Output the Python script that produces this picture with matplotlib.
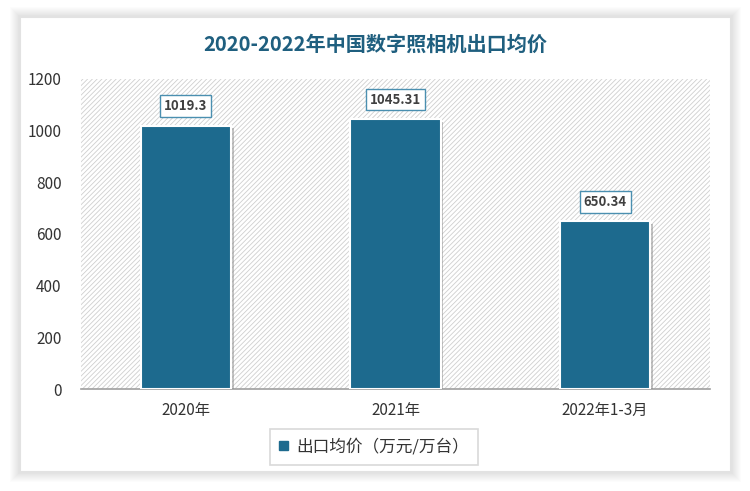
import matplotlib.pyplot as plt
import matplotlib.patches as mpatches
import matplotlib.patheffects as pe

plt.rcParams['font.family'] = ['Noto Sans CJK SC', 'DejaVu Sans']
plt.rcParams['hatch.linewidth'] = 0.6
plt.rcParams['hatch.color'] = '#cfcfcf'

categories = ['2020年', '2021年', '2022年1-3月']
values = [1019.3, 1045.31, 650.34]
value_labels = ['1019.3', '1045.31', '650.34']
title = '2020-2022年中国数字照相机出口均价'
series_name = '出口均价（万元/万台）'

bar_color = '#1d6a8e'
title_color = '#1f5f7f'

fig = plt.figure(figsize=(7.5, 4.91), dpi=100)
fig.patch.set_facecolor('white')

# outer frame with soft shadow
for i in range(10):
    off = 10 - i
    fig.patches.append(mpatches.Rectangle(
        ((20 - off) / 750, (19 - off) / 491), (711 + 2 * off) / 750, (455 + 2 * off) / 491,
        transform=fig.transFigure, facecolor='black', alpha=0.012, edgecolor='none', zorder=0))
fig.patches.append(mpatches.Rectangle(
    (20 / 750, 19 / 491), 711 / 750, 455 / 491, transform=fig.transFigure,
    facecolor='white', edgecolor='#e2e2e2', linewidth=1.5, zorder=1))

ax = fig.add_axes([81 / 750, 102 / 491, 629 / 750, 310 / 491])
ax.set_zorder(2)
ax.set_facecolor('white')
ax.add_patch(mpatches.Rectangle((0, 0), 1, 1, transform=ax.transAxes, facecolor='white',
                                hatch='///////', edgecolor='#cfcfcf', linewidth=0, zorder=0))

x = range(len(categories))
bars = ax.bar(x, values, width=0.43, color=bar_color, edgecolor='white', linewidth=1.5, zorder=3)
for b in bars:
    b.set_path_effects([pe.SimplePatchShadow(offset=(2, -2), shadow_rgbFace='#888888', alpha=0.5),
                        pe.Normal()])

for xi, v, lab in zip(x, values, value_labels):
    ax.annotate(lab, (xi, v), xytext=(0, 14), textcoords='offset points', ha='center', va='center',
                fontsize=9.5, fontweight='bold', color='#404040', zorder=5,
                bbox=dict(boxstyle='square,pad=0.3', facecolor='white', edgecolor='#4a8fb0', linewidth=1))

ax.set_xlim(-0.5, 2.5)
ax.set_ylim(0, 1200)
ax.set_yticks(range(0, 1201, 200))
ax.set_xticks(list(x))
ax.set_xticklabels(categories, fontsize=11, color='#333333')
ax.tick_params(axis='y', labelsize=11, colors='#333333', length=0, pad=14)
ax.tick_params(axis='x', length=0, pad=9)
for s in ['top', 'right', 'left']:
    ax.spines[s].set_visible(False)
ax.spines['bottom'].set_color('#a0a0a0')
ax.spines['bottom'].set_linewidth(1.2)

fig.text(0.5, 1 - 44 / 491, title, ha='center', va='center', fontsize=14.5, fontweight='bold',
         color=title_color)

handle = mpatches.Patch(color=bar_color, label=series_name)
leg = fig.legend(handles=[handle], loc='center', bbox_to_anchor=(374 / 750, 1 - 447 / 491),
                 frameon=True, fancybox=False, fontsize=12, handlelength=0.5, handleheight=0.5,
                 borderpad=0.55, handletextpad=0.5, borderaxespad=0)
leg.get_frame().set_edgecolor('#d0d0d0')
leg.get_frame().set_linewidth(1.2)
for t in leg.get_texts():
    t.set_color('#333333')

fig.savefig('out.png', dpi=100)
